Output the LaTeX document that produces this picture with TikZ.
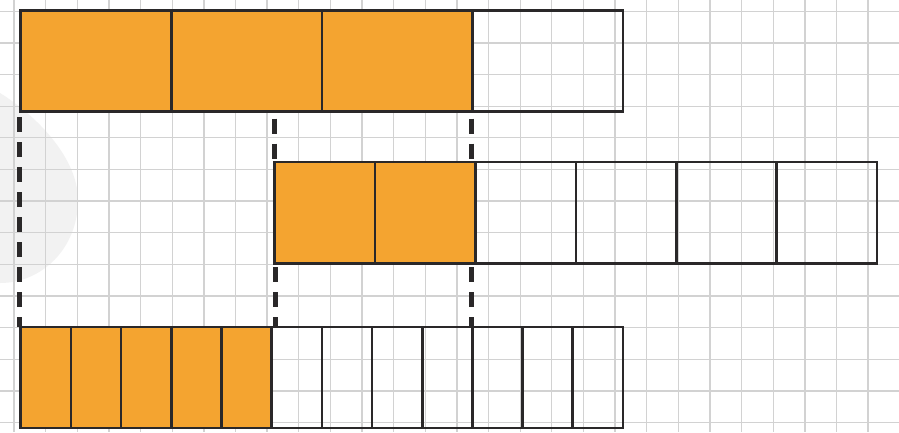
\documentclass[tikz,border=0pt]{standalone}
\definecolor{barorange}{HTML}{F4A430}
\definecolor{barline}{HTML}{2A2829}
\definecolor{gridgray}{HTML}{D2D2D2}
\definecolor{blobgray}{HTML}{F2F2F2}
\tikzset{
  gridline/.style={draw=gridgray, line width=1.3pt},
  filled/.style={fill=barorange, draw=barline, line width=2.6pt},
  empty/.style={draw=barline, line width=2.6pt},
  guide/.style={draw=barline, line width=5pt, dash pattern=on 15pt off 10pt},
}
\begin{document}
\begin{tikzpicture}[x=1pt,y=-1pt]
\useasboundingbox (0,0) rectangle (899,432);
\fill[white] (0,0) rectangle (899,432);
% faint blob
\fill[blobgray] (0,93) .. controls (40,118) and (78,160) .. (78,200)
  .. controls (78,248) and (42,283) .. (0,283) -- cycle;
% grid
\foreach \k in {0,...,28} {
  \draw[gridline] ({14.1+31.63*\k},0) -- ({14.1+31.63*\k},432);
}
\foreach \k in {-1,...,13} {
  \draw[gridline] (0,{11.3+31.63*\k}) -- (899,{11.3+31.63*\k});
}
% top bar: 4 cells
\foreach \i in {0,...,3} {
  \pgfmathsetmacro{\xa}{20.7+150.58*\i}
  \pgfmathsetmacro{\xb}{20.7+150.58*(\i+1)}
  \ifnum\i<3
    \draw[filled] (\xa,10.7) rectangle (\xb,111.5);
  \else
    \draw[empty] (\xa,10.7) rectangle (\xb,111.5);
  \fi
}
% middle bar: 6 cells
\foreach \i in {0,...,5} {
  \pgfmathsetmacro{\xa}{274.7+100.38*\i}
  \pgfmathsetmacro{\xb}{274.7+100.38*(\i+1)}
  \ifnum\i<2
    \draw[filled] (\xa,162) rectangle (\xb,263.3);
  \else
    \draw[empty] (\xa,162) rectangle (\xb,263.3);
  \fi
}
% bottom bar: 12 cells
\foreach \i in {0,...,11} {
  \pgfmathsetmacro{\xa}{20.7+50.19*\i}
  \pgfmathsetmacro{\xb}{20.7+50.19*(\i+1)}
  \ifnum\i<5
    \draw[filled] (\xa,327) rectangle (\xb,427.8);
  \else
    \draw[empty] (\xa,327) rectangle (\xb,427.8);
  \fi
}
% guide coordinates
\coordinate (l1) at (19,117);
\coordinate (l2) at (19,327);
\coordinate (m1) at (274.2,118.5);
\coordinate (m2) at (274.2,162);
\coordinate (m3) at (275.5,267);
\coordinate (m4) at (275.5,327);
\coordinate (r1) at (471.8,118.5);
\coordinate (r2) at (471.8,162);
\coordinate (r3) at (471.5,267);
\coordinate (r4) at (471.5,327);
\draw[guide] (l1) -- (l2);
\draw[guide] (m1) -- (m2);
\draw[guide] (m3) -- (m4);
\draw[guide] (r1) -- (r2);
\draw[guide] (r3) -- (r4);
\end{tikzpicture}
\end{document}
